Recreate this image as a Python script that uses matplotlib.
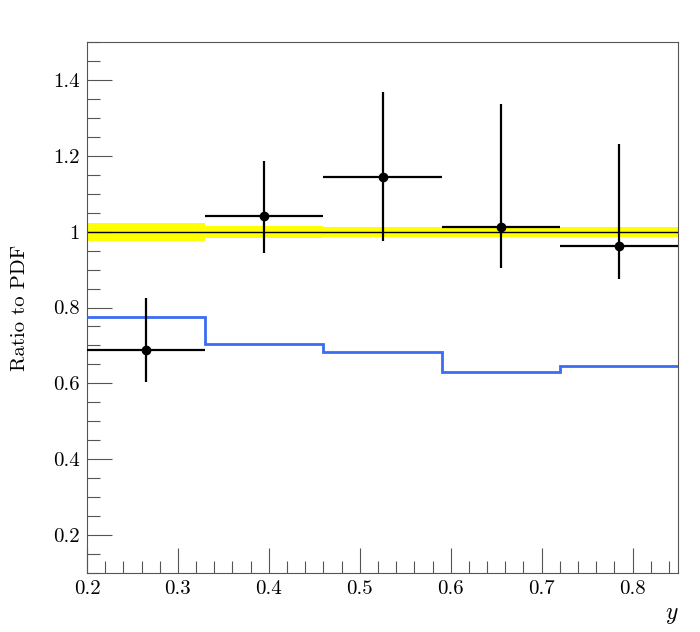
import matplotlib
matplotlib.use("Agg")
import matplotlib.pyplot as plt
import numpy as np
from matplotlib.ticker import MultipleLocator, FixedLocator

plt.rcParams['font.family'] = 'cmr10'
plt.rcParams['mathtext.fontset'] = 'cm'
plt.rcParams['axes.formatter.use_mathtext'] = True

bin_edges = [0.2, 0.33, 0.46, 0.59, 0.72, 0.85]
data_y = [0.687, 1.042, 1.145, 1.011, 0.963]
data_up = [0.826, 1.187, 1.368, 1.337, 1.232]
data_dn = [0.603, 0.945, 0.976, 0.903, 0.874]
model_y = [0.774, 0.703, 0.682, 0.629, 0.645]
band_half = [0.024, 0.016, 0.013, 0.013, 0.013]

edges = np.array(bin_edges)
centers = 0.5 * (edges[:-1] + edges[1:])
halfw = 0.5 * (edges[1:] - edges[:-1])
dy = np.array(data_y)

fig = plt.figure(figsize=(7.0, 6.32), dpi=100)
ax = fig.add_axes([87/700, 59/632, 591/700, 531/632])

for i in range(len(centers)):
    ax.fill_between([edges[i], edges[i+1]], 1 - band_half[i], 1 + band_half[i],
                    color='#ffff00', lw=0, zorder=1)
ax.axhline(1.0, color='black', lw=1.0, zorder=2)

ax.stairs(model_y, edges, baseline=None, color='#3a6cf4', lw=2.0, zorder=3)

yerr = [dy - np.array(data_dn), np.array(data_up) - dy]
ax.errorbar(centers, dy, xerr=halfw, yerr=yerr, fmt='o', color='black',
            ms=6, elinewidth=1.6, capsize=0, zorder=4)

ax.set_xlim(0.2, 0.85)
ax.set_ylim(0.1, 1.5)
ax.xaxis.set_major_locator(MultipleLocator(0.1))
ax.xaxis.set_minor_locator(MultipleLocator(0.02))
ax.yaxis.set_major_locator(FixedLocator([0.2, 0.4, 0.6, 0.8, 1.0, 1.2, 1.4]))
ax.yaxis.set_minor_locator(MultipleLocator(0.05))
ax.xaxis.set_major_formatter(plt.FuncFormatter(lambda v, p: f"{v:.1f}"))
ax.yaxis.set_major_formatter(plt.FuncFormatter(lambda v, p: "1" if abs(v-1) < 1e-6 else f"{v:.1f}"))

ax.tick_params(which='both', direction='in', top=False, right=False, color='#555555',
               labelsize=15, width=0.8)
ax.tick_params(which='major', length=18, pad=5)
ax.tick_params(which='minor', length=9)
for s in ax.spines.values():
    s.set_color('#555555')
    s.set_linewidth(0.8)

ax.set_ylabel('Ratio to PDF', fontsize=15)
ax.yaxis.set_label_coords(-0.098, 0.5)
ax.set_xlabel('$y$', fontsize=17)
ax.xaxis.set_label_coords(0.99, -0.058)

fig.savefig('out.png', dpi=100)
